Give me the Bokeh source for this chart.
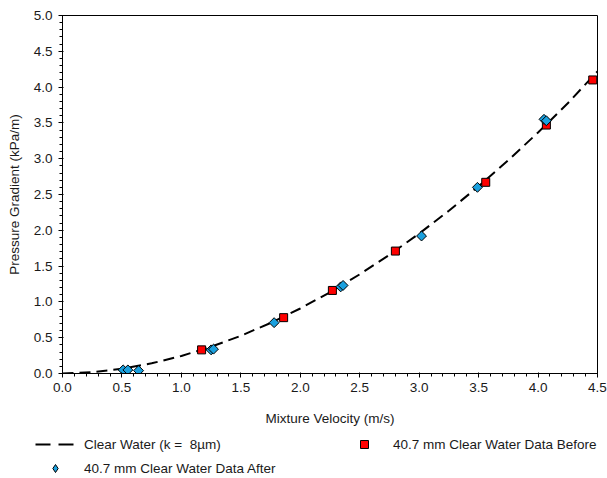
import numpy as np
from bokeh.plotting import figure
from bokeh.layouts import column, row
from bokeh.models import (Range1d, SingleIntervalTicker, PrintfTickFormatter,
                          Legend, LegendItem)
from bokeh.embed import file_html
from bokeh.resources import INLINE

# Clear water model curve
curve_v = [0.0, 0.25, 0.5, 0.75, 1.0, 1.25, 1.5, 1.75, 2.0, 2.25, 2.5, 2.75,
           3.0, 3.25, 3.5, 3.75, 4.0, 4.25, 4.5]
curve_dp = [0.0, 0.018, 0.066, 0.142, 0.245, 0.374, 0.527, 0.706, 0.908, 1.134,
            1.385, 1.658, 1.954, 2.273, 2.615, 2.979, 3.366, 3.774, 4.22]

# 40.7 mm Clear Water Data Before
before_v = [1.17, 1.86, 2.27, 2.80, 3.56, 4.07, 4.46]
before_dp = [0.33, 0.78, 1.16, 1.71, 2.67, 3.47, 4.10]

# 40.7 mm Clear Water Data After
after_v = [0.51, 0.55, 0.64, 1.25, 1.27, 1.78, 2.34, 2.36, 3.02, 3.49, 4.05, 4.07]
after_dp = [0.05, 0.05, 0.04, 0.33, 0.34, 0.71, 1.21, 1.23, 1.92, 2.60, 3.55, 3.53]

series_labels = ["Clear Water (k =  8\u00b5m)",
                 "40.7 mm Clear Water Data After",
                 "40.7 mm Clear Water Data Before"]

FONT = "Liberation Sans"
FS = "13.5px"
TXT = "#1a1a1a"
BLUE = "#1AA0DE"
RED = "#FF0000"

p = figure(width=607, height=430, output_backend="svg", toolbar_location=None,
           x_range=Range1d(0, 4.5), y_range=Range1d(0, 5.0),
           min_border_left=62, min_border_right=10, min_border_top=15,
           min_border_bottom=57)
p.background_fill_color = "white"
p.border_fill_color = "white"
p.outline_line_color = "black"
p.outline_line_width = 1
p.xgrid.visible = False
p.ygrid.visible = False

p.xaxis.ticker = SingleIntervalTicker(interval=0.5, num_minor_ticks=5)
p.yaxis.ticker = SingleIntervalTicker(interval=0.5, num_minor_ticks=5)
for ax in (p.xaxis, p.yaxis):
    ax.formatter = PrintfTickFormatter(format="%.1f")
    ax.axis_line_color = "black"
    ax.major_tick_line_color = "black"
    ax.minor_tick_line_color = "black"
    ax.major_tick_out = 4
    ax.major_tick_in = 1
    ax.minor_tick_out = 3
    ax.minor_tick_in = 0
    ax.major_label_text_font = FONT
    ax.major_label_text_font_size = FS
    ax.major_label_text_color = TXT
    ax.axis_label_text_font = FONT
    ax.axis_label_text_font_size = FS
    ax.axis_label_text_font_style = "normal"
    ax.axis_label_text_color = TXT
p.xaxis.axis_label = "Mixture Velocity (m/s)"
p.yaxis.axis_label = "Pressure Gradient (kPa/m)"
p.xaxis.major_label_standoff = 5
p.xaxis.axis_label_standoff = 16
p.yaxis.major_label_standoff = 6
p.yaxis.axis_label_standoff = 9

p.line(curve_v, curve_dp, line_color="black", line_width=2, line_dash="11 6")
p.scatter(before_v, before_dp, marker="square", size=8, fill_color=RED,
          line_color="black", line_width=1)
p.scatter(after_v, after_dp, marker="square", angle=np.pi / 4, size=7,
          fill_color=BLUE, line_color="black", line_width=1)

# Legend strip below the chart
lg = figure(width=607, height=48, output_backend="svg", toolbar_location=None,
            x_range=Range1d(0, 1), y_range=Range1d(0, 1),
            x_axis_location=None, y_axis_location=None,
            min_border_left=0, min_border_right=0, min_border_top=0,
            min_border_bottom=0)
lg.xgrid.visible = False
lg.ygrid.visible = False
lg.outline_line_color = None
lg.border_fill_color = "white"
l1 = lg.line([-5, -4], [-5, -4], line_color="black", line_width=2,
             line_dash="15 8")
l2 = lg.scatter([-5], [-5], marker="diamond", size=9, fill_color=BLUE,
                line_color="black", line_width=1)
l3 = lg.scatter([-5], [-5], marker="square", size=8, fill_color=RED,
                line_color="black", line_width=1)

legend = Legend(items=[
    LegendItem(label=series_labels[0], renderers=[l1]),
    LegendItem(label=series_labels[1], renderers=[l2]),
    LegendItem(label=series_labels[2], renderers=[l3]),
], orientation="vertical", nrows=2, location=(35, 0))
legend.label_text_font = FONT
legend.label_text_font_size = FS
legend.label_text_color = TXT
legend.glyph_width = 40
legend.glyph_height = 20
legend.label_height = 20
legend.label_width = 256
legend.label_standoff = 9
legend.spacing = 4
legend.padding = 0
legend.margin = 0
legend.border_line_color = None
legend.background_fill_alpha = 0
lg.add_layout(legend, "center")

open("out.html", "w").write(file_html(column(p, row(lg), spacing=0), INLINE))
